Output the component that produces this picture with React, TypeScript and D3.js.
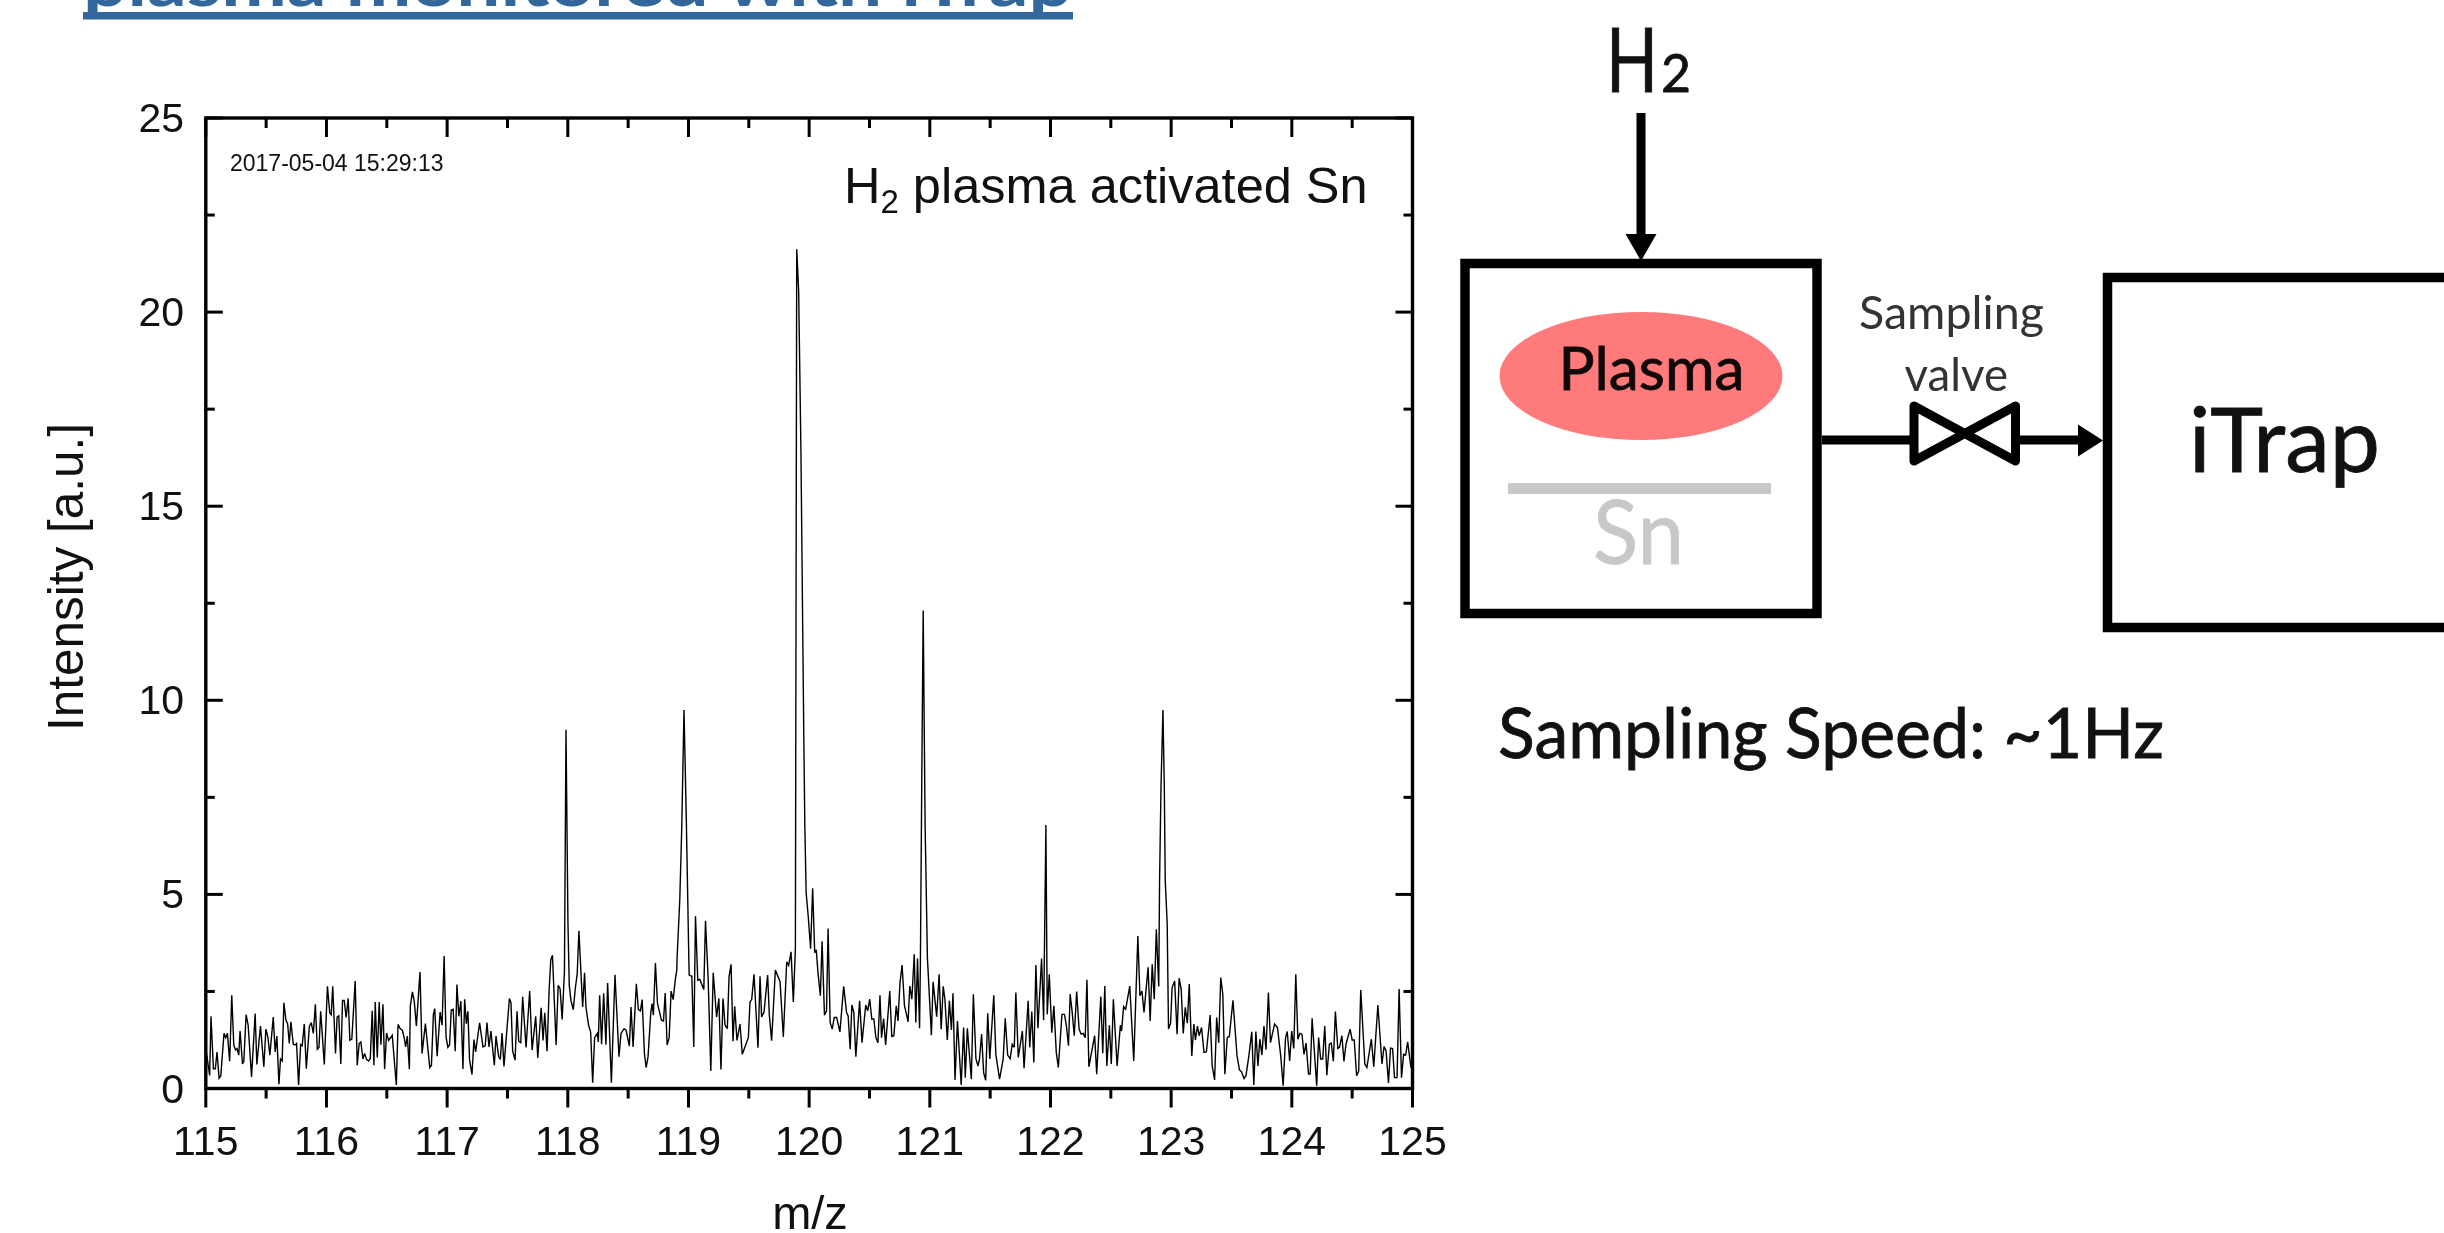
import React from "react";
import * as d3 from "d3";

// [m/z, intensity] readings, one list per unit of m/z
const spectrum115 = [[115,1.6],[115.002,.99],[115.032,.34],[115.043,1.86],[115.063,.51],[115.079,.51],[115.093,.94],[115.11,.26],[115.124,.32],[115.151,1.42],[115.165,1.31],[115.179,1.42],[115.198,.7],[115.215,2.4],[115.232,1.12],[115.246,.99],[115.259,1.03],[115.273,.86],[115.284,1.48],[115.304,.63],[115.315,.7],[115.334,1.9],[115.351,1.63],[115.379,.3],[115.409,1.93],[115.423,.62],[115.453,1.61],[115.481,.56],[115.498,1.53],[115.514,1.33],[115.531,.86],[115.559,1.84],[115.575,.94],[115.589,1.35],[115.606,.11],[115.619,.76],[115.633,.71],[115.647,2.21],[115.664,1.76],[115.678,1.67],[115.692,1.16],[115.705,1.72],[115.725,1.14],[115.741,1.12],[115.752,1.16],[115.769,.09],[115.786,1.13],[115.799,1.1],[115.816,1.66],[115.833,.51],[115.858,1.59],[115.874,1.7],[115.891,1.42],[115.908,2.17],[115.924,1.01],[115.938,1.06],[115.952,1.99],[115.982,.62]];
const spectrum116 = [[116.008,2.63],[116.027,1.95],[116.039,1.9],[116.052,2.63],[116.075,.9],[116.088,1.84],[116.102,1.87],[116.119,.63],[116.133,2.27],[116.147,2.27],[116.163,1.83],[116.18,2.32],[116.194,1.24],[116.21,1.27],[116.238,2.77],[116.255,.6],[116.271,1.16],[116.285,1.2],[116.302,.76],[116.316,.9],[116.332,.75],[116.349,.71],[116.363,.77],[116.379,2],[116.393,.6],[116.404,2.23],[116.421,.8],[116.437,2.23],[116.451,1.13],[116.468,2.17],[116.482,.5],[116.498,1.43],[116.515,1.24],[116.545,1.37],[116.579,.09],[116.593,1.65],[116.612,1.54],[116.629,1.5],[116.645,1.29],[116.656,1.07],[116.67,1.35],[116.687,.5],[116.695,2.13],[116.712,2.49],[116.728,2.23],[116.745,1.61],[116.775,3],[116.792,.9],[116.82,1.67],[116.856,.54],[116.87,.6],[116.886,1.9],[116.897,2.06],[116.917,.83],[116.942,1.97],[116.958,1.63],[116.975,3.41],[116.991,1.33]];
const spectrum117 = [[117.006,1.06],[117.02,1.12],[117.034,2.02],[117.05,2.04],[117.067,.96],[117.081,2.68],[117.097,1.86],[117.114,2.25],[117.131,.5],[117.145,2.3],[117.159,1.67],[117.172,1.99],[117.186,.73],[117.206,.36],[117.222,1.26],[117.236,.94],[117.269,1.69],[117.297,1.07],[117.316,1.1],[117.33,1.7],[117.347,1.07],[117.363,1.48],[117.391,.6],[117.405,1.35],[117.427,.82],[117.441,.75],[117.455,1.43],[117.471,.57],[117.516,2.32],[117.529,2.21],[117.543,.96],[117.563,.73],[117.579,1.99],[117.593,1.22],[117.61,1.18],[117.626,2.36],[117.654,1.06],[117.684,2.51],[117.704,.99],[117.734,1.86],[117.751,.79],[117.779,2.08],[117.795,1.24],[117.809,1.95],[117.828,.96],[117.845,2.53],[117.859,3.32],[117.873,3.43],[117.903,1.12],[117.92,2.66],[117.936,2.57],[117.953,1.78],[117.972,3],[117.985,9.24]];
const spectrum118 = [[118.001,4.28],[118.012,2.66],[118.026,2.27],[118.045,2.03],[118.062,2.57],[118.078,2.96],[118.092,4.06],[118.123,2.1],[118.139,2.98],[118.15,2.1],[118.172,1.63],[118.189,1.46],[118.206,.15],[118.222,1.31],[118.245,1.42],[118.253,1.2],[118.264,2.4],[118.28,1.14],[118.297,2.45],[118.316,1.13],[118.33,2.72],[118.361,.15],[118.391,2.93],[118.424,.82],[118.441,1.42],[118.466,1.54],[118.483,1.5],[118.51,1.09],[118.524,2.1],[118.541,1.07],[118.568,2.7],[118.585,2.03],[118.602,2],[118.616,2.29],[118.635,.9],[118.649,.54],[118.665,.82],[118.687,1.93],[118.698,2.19],[118.709,1.89],[118.726,3.23],[118.743,2.19],[118.776,1.76],[118.793,1.74],[118.807,2.46],[118.823,1.12],[118.84,1.31],[118.856,2.51],[118.873,2.29],[118.892,2.83],[118.903,3.05],[118.905,3.31],[118.928,4.87],[118.944,6.69],[118.963,9.75],[118.982,6.94]];
const spectrum119 = [[119.003,3.31],[119.006,2.92],[119.028,2.89],[119.044,1.07],[119.058,4.44],[119.077,2.79],[119.094,2.81],[119.127,2.55],[119.141,4.32],[119.163,2.83],[119.185,.45],[119.205,2.98],[119.233,1.84],[119.252,2.32],[119.269,.49],[119.286,2.32],[119.303,1.63],[119.322,1.54],[119.336,2.87],[119.353,3.2],[119.369,1.22],[119.383,2.12],[119.402,1.24],[119.427,1.66],[119.446,.88],[119.496,1.31],[119.51,2.23],[119.524,2.29],[119.543,2.94],[119.576,1.05],[119.593,2.89],[119.606,1.84],[119.626,1.97],[119.656,2.92],[119.67,1.89],[119.689,1.23],[119.72,3.05],[119.759,2.75],[119.786,1.33],[119.814,3.26],[119.83,3.17],[119.85,3.52],[119.869,2.23],[119.886,3.6],[119.897,21.62],[119.913,20.55],[119.932,16.4],[119.944,12.65],[119.956,9],[119.964,6.8],[119.975,5.05],[119.992,4.45]];
const spectrum120 = [[120.012,3.6],[120.029,5.16],[120.046,3.5],[120.059,3.57],[120.073,2.99],[120.093,2.39],[120.107,3.79],[120.127,1.89],[120.144,2],[120.157,4.12],[120.174,1.7],[120.191,1.53],[120.208,1.83],[120.228,1.83],[120.255,1.46],[120.286,2.63],[120.31,1.96],[120.323,1.87],[120.34,1.01],[120.354,2.15],[120.37,1.96],[120.387,.82],[120.418,2.26],[120.438,1.18],[120.469,2.15],[120.485,2],[120.502,2.3],[120.519,1.79],[120.536,1.79],[120.553,1.31],[120.57,1.18],[120.587,2.4],[120.6,1.31],[120.617,1.8],[120.634,1.12],[120.668,2.51],[120.685,1.34],[120.702,1.36],[120.722,2.13],[120.736,1.74],[120.753,2.73],[120.77,3.18],[120.79,2.13],[120.803,1.96],[120.82,1.72],[120.834,2.64],[120.851,2.3],[120.871,3.46],[120.884,1.7],[120.898,3.35],[120.915,1.55],[120.922,3.31],[120.933,7.8],[120.945,12.31],[120.961,6.8],[120.98,3.37]];
const spectrum121 = [[121.013,1.37],[121.027,2.75],[121.057,1.85],[121.077,2.94],[121.094,1.53],[121.111,2.63],[121.125,2.3],[121.145,1.25],[121.162,2.26],[121.179,1.51],[121.192,2.45],[121.209,.22],[121.229,1.74],[121.26,.09],[121.28,1.57],[121.294,.28],[121.311,1.55],[121.344,.24],[121.361,2.43],[121.382,.77],[121.399,.58],[121.412,.76],[121.429,1.4],[121.446,.41],[121.463,.21],[121.48,1.94],[121.497,.76],[121.53,2.4],[121.547,.88],[121.578,.24],[121.608,.76],[121.625,1.81],[121.645,.86],[121.666,.77],[121.683,1.14],[121.7,1.06],[121.713,2.47],[121.733,.8],[121.767,1.48],[121.781,.52],[121.815,2.26],[121.828,1.06],[121.845,1.98],[121.862,.67],[121.879,3.18],[121.896,1.55],[121.926,3.35],[121.943,1.76],[121.962,6.79],[121.973,1.91],[121.99,2.94]];
const spectrum122 = [[122.011,1.44],[122.028,2.13],[122.048,.93],[122.065,.54],[122.095,1.91],[122.116,1.91],[122.132,1.61],[122.149,1.1],[122.163,2.43],[122.18,1.96],[122.197,1.36],[122.217,2.5],[122.237,1.53],[122.254,1.4],[122.271,1.42],[122.288,1.31],[122.302,2.8],[122.318,.56],[122.366,1.36],[122.383,.37],[122.417,2.37],[122.433,.91],[122.45,2.64],[122.467,.58],[122.488,1.63],[122.504,.63],[122.521,2.3],[122.552,.58],[122.579,1.63],[122.589,1.48],[122.606,2.11],[122.623,2.04],[122.657,2.64],[122.69,.71],[122.724,3.93],[122.741,2.39],[122.758,2.51],[122.775,1.96],[122.809,3.12],[122.826,1.74],[122.843,3.2],[122.86,2.3],[122.877,4.1],[122.897,2.63],[122.904,5.35],[122.916,7.8],[122.932,9.75],[122.943,7.8],[122.951,5.35],[122.967,4.26],[122.978,1.53],[122.995,1.68]];
const spectrum123 = [[123.008,2.6],[123.029,2.77],[123.049,1.4],[123.066,2.84],[123.083,2.56],[123.1,1.42],[123.117,2.09],[123.134,1.68],[123.15,2.69],[123.171,.84],[123.188,1.66],[123.201,1.25],[123.218,1.61],[123.232,1.36],[123.252,1.57],[123.272,.93],[123.292,.94],[123.323,1.89],[123.34,.58],[123.36,.22],[123.377,1.83],[123.394,1.18],[123.411,2.86],[123.428,2.43],[123.445,.37],[123.465,1.31],[123.482,1.34],[123.512,2.27],[123.546,.84],[123.566,.48],[123.583,.43],[123.604,.26],[123.62,.33],[123.644,.84],[123.668,1.46],[123.685,.09],[123.702,1.47],[123.719,.58],[123.735,1.27],[123.752,.86],[123.769,1.61],[123.786,1],[123.806,2.47],[123.823,1.18],[123.857,1.66],[123.881,1.57],[123.908,.84],[123.928,.07],[123.948,1.31],[123.962,1.47],[123.982,.71],[123.999,1.48]];
const spectrum124 = [[124.016,1.03],[124.033,2.94],[124.05,1.27],[124.067,1.42],[124.084,1.4],[124.101,.88],[124.118,1.17],[124.138,.37],[124.152,.37],[124.168,1.81],[124.206,.07],[124.222,1.31],[124.239,.76],[124.256,.76],[124.273,1.61],[124.29,.34],[124.311,1.14],[124.327,1.17],[124.344,.7],[124.361,1.98],[124.381,1.03],[124.395,1.06],[124.415,1.36],[124.432,.7],[124.449,1.14],[124.483,1.53],[124.5,1.25],[124.517,1.25],[124.537,.33],[124.554,.45],[124.571,2.54],[124.605,.63],[124.622,.54],[124.659,1.27],[124.679,.56],[124.713,2.15],[124.747,.63],[124.764,1.08],[124.781,.97],[124.801,.14],[124.818,1.04],[124.835,1.03],[124.851,.28],[124.872,.28],[124.889,2.56],[124.909,.28],[124.926,.88],[124.943,.86],[124.96,1.2],[124.987,.54],[125,.8]];

const xMajorTicks = [115, 116, 117, 118, 119, 120, 121, 122, 123, 124, 125];
const xMinorTicks = [115.5, 116.5, 117.5, 118.5, 119.5, 120.5, 121.5, 122.5, 123.5, 124.5];
const yMajorTicks = [0, 5, 10, 15, 20, 25];
const yMinorTicks = [2.5, 7.5, 12.5, 17.5, 22.5];

const titleText = "plasma monitored with iTrap";
const xTitle = "m/z";
const yTitle = "Intensity [a.u.]";
const timestamp = "2017-05-04 15:29:13";

const ARIAL = "'Liberation Sans', Arial, sans-serif";
const CALIBRI = "Lato, 'Noto Sans', sans-serif";

export default function App() {
  const spectrum = [
    ...spectrum115, ...spectrum116, ...spectrum117, ...spectrum118, ...spectrum119,
    ...spectrum120, ...spectrum121, ...spectrum122, ...spectrum123, ...spectrum124,
  ];
  const x = d3.scaleLinear().domain([115, 125]).range([205.8, 1412.5]);
  const y = d3.scaleLinear().domain([0, 25]).range([1088.5, 118]);
  const path = d3.line().x((d: number[]) => x(d[0])).y((d: number[]) => y(d[1]))(spectrum as any) as string;

  return (
    <svg width={2444} height={1233} style={{ position: "absolute", left: 0, top: 0, background: "#fff" }}>
      {/* slide title, cropped by the top edge */}
      <text x={83} y={6} fontFamily={CALIBRI} fontWeight={700} fontSize={66} fill="#33669a"
        textLength={990} lengthAdjust="spacingAndGlyphs">{titleText}</text>
      <rect x={83} y={12} width={990} height={7.5} fill="#33669a" />

      {/* chart */}
      <path d={path} fill="none" stroke="#000" strokeWidth={1.4} strokeLinejoin="miter" strokeMiterlimit={3} />
      <rect x={x(115)} y={y(25)} width={x(125) - x(115)} height={y(0) - y(25)} fill="none" stroke="#000" strokeWidth={3.4} />

      {xMajorTicks.map((t) => (
        <g key={t} stroke="#000" strokeWidth={3}>
          <line x1={x(t)} x2={x(t)} y1={y(0)} y2={y(0) + 19} />
          <line x1={x(t)} x2={x(t)} y1={y(25)} y2={y(25) + 19} />
        </g>
      ))}
      {xMinorTicks.map((t) => (
        <g key={t} stroke="#000" strokeWidth={3}>
          <line x1={x(t)} x2={x(t)} y1={y(0)} y2={y(0) + 10} />
          <line x1={x(t)} x2={x(t)} y1={y(25)} y2={y(25) + 10} />
        </g>
      ))}
      {yMajorTicks.map((t) => (
        <g key={t} stroke="#000" strokeWidth={3}>
          <line x1={x(115)} x2={x(115) + 17} y1={y(t)} y2={y(t)} />
          <line x1={x(125)} x2={x(125) - 17} y1={y(t)} y2={y(t)} />
        </g>
      ))}
      {yMinorTicks.map((t) => (
        <g key={t} stroke="#000" strokeWidth={3}>
          <line x1={x(115)} x2={x(115) + 9} y1={y(t)} y2={y(t)} />
          <line x1={x(125)} x2={x(125) - 9} y1={y(t)} y2={y(t)} />
        </g>
      ))}

      <g fontFamily={ARIAL} fontSize={41} fill="#111">
        {xMajorTicks.map((t) => (
          <text key={t} x={x(t)} y={1155} textAnchor="middle">{t}</text>
        ))}
        {yMajorTicks.map((t) => (
          <text key={t} x={184} y={y(t) + 14} textAnchor="end">{t}</text>
        ))}
      </g>
      <text x={810} y={1229} textAnchor="middle" fontFamily={ARIAL} fontSize={47} fill="#111">{xTitle}</text>
      <text transform="translate(83,577) rotate(-90)" textAnchor="middle" fontFamily={ARIAL} fontSize={49.5} fill="#111">{yTitle}</text>
      <text x={230} y={171} fontFamily={ARIAL} fontSize={23} fill="#111">{timestamp}</text>
      <text x={844} y={203} fontFamily={ARIAL} fontSize={50.5} fill="#111">
        H<tspan fontSize={33} dy={10}>2</tspan><tspan dy={-10}> plasma activated Sn</tspan>
      </text>

      {/* schematic */}
      <g stroke="#111" strokeWidth={0.8}>
        <text x={1606} y={92} fontFamily={CALIBRI} fontSize={90} fill="#111" textLength={52} lengthAdjust="spacingAndGlyphs">H</text>
        <text x={1661} y={92} fontFamily={CALIBRI} fontSize={52} fill="#111" textLength={30} lengthAdjust="spacingAndGlyphs">2</text>
        <text x={1558.5} y={390} fontFamily={CALIBRI} fontSize={60} fill="#111" textLength={186} lengthAdjust="spacingAndGlyphs">Plasma</text>
        <text x={2189} y={472} fontFamily={CALIBRI} fontSize={90} fill="#111" textLength={191} lengthAdjust="spacingAndGlyphs">iTrap</text>
        <text x={1498} y={758} fontFamily={CALIBRI} fontSize={70} fill="#111" textLength={666} lengthAdjust="spacingAndGlyphs">Sampling Speed: ~1Hz</text>
      </g>
      <line x1={1641} x2={1641} y1={113} y2={236} stroke="#000" strokeWidth={9} />
      <polygon points="1625.5,234 1656.5,234 1641,261" fill="#000" />
      <rect x={1465} y={263.5} width={352} height={350} fill="none" stroke="#000" strokeWidth={9.5} />
      <ellipse cx={1641} cy={376} rx={141.5} ry={64} fill="#ff7a7a" style={{ mixBlendMode: "multiply" }} />
      <rect x={1508} y={483} width={263} height={11} fill="#c8c8c8" />
      <text x={1593} y={564} fontFamily={CALIBRI} fontSize={90} fill="#c8c8c8" stroke="#c8c8c8" strokeWidth={0.8} textLength={91} lengthAdjust="spacingAndGlyphs">Sn</text>
      <line x1={1822} x2={1914} y1={440} y2={440} stroke="#000" strokeWidth={9} />
      <polygon points="1914,406 1914,461 2015.5,406 2015.5,461" fill="none" stroke="#000" strokeWidth={9} strokeLinejoin="round" />
      <line x1={2016} x2={2080} y1={440} y2={440} stroke="#000" strokeWidth={9} />
      <polygon points="2078,424.5 2078,456.5 2103,440.5" fill="#000" />
      <text x={1859} y={329} fontFamily={CALIBRI} fontSize={46} fill="#333" textLength={185} lengthAdjust="spacingAndGlyphs">Sampling</text>
      <text x={1904.5} y={391} fontFamily={CALIBRI} fontSize={46} fill="#333" textLength={103.5} lengthAdjust="spacingAndGlyphs">valve</text>
      <rect x={2107.5} y={277.5} width={500} height={350} fill="none" stroke="#000" strokeWidth={9.5} />
    </svg>
  );
}
